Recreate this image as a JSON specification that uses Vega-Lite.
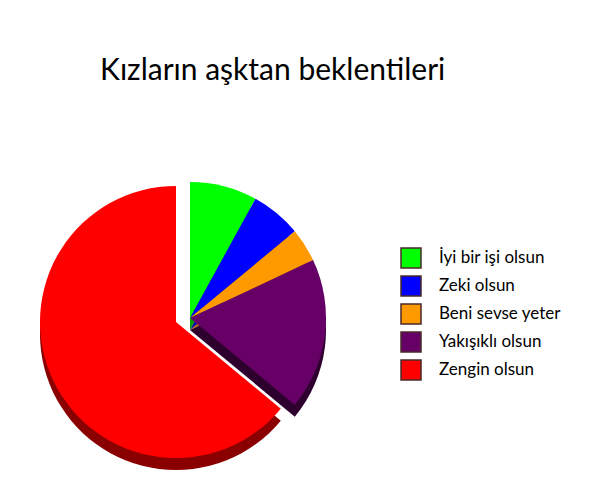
{
  "$schema": "https://vega.github.io/schema/vega-lite/v6.json",
  "autosize": "none",
  "width": 380,
  "height": 266,
  "padding": {"left": 0, "top": 185, "right": 220, "bottom": 38},
  "background": "white",
  "title": {
    "text": "Kızların aşktan beklentileri",
    "anchor": "start",
    "frame": "group",
    "dx": 100,
    "offset": 96,
    "font": "Lato",
    "fontSize": 30,
    "fontWeight": "normal",
    "color": "black"
  },
  "config": {"view": {"stroke": null}},
  "data": {
    "values": [
      {"name": "İyi bir işi olsun", "value": 8, "sira": 1},
      {"name": "Zeki olsun", "value": 6, "sira": 2},
      {"name": "Beni sevse yeter", "value": 4, "sira": 3},
      {"name": "Yakışıklı olsun", "value": 18, "sira": 4},
      {"name": "Zengin olsun", "value": 64, "sira": 5}
    ]
  },
  "layer": [
    {
      "mark": {"type": "arc", "radius": 136, "yOffset": 12},
      "encoding": {
        "theta": {"field": "value", "type": "quantitative", "stack": true},
        "order": {"field": "sira", "type": "quantitative"},
        "color": {
          "field": "name", "type": "nominal", "legend": null,
          "scale": {
            "domain": ["İyi bir işi olsun", "Zeki olsun", "Beni sevse yeter", "Yakışıklı olsun", "Zengin olsun"],
            "range": ["#00a000", "#0000a0", "#b06000", "#2e002e", "#8a0000"]
          }
        },
        "opacity": {"condition": {"test": "datum.name === 'Zengin olsun'", "value": 0}, "value": 1}
      }
    },
    {
      "mark": {"type": "arc", "radius": 136, "xOffset": -14, "yOffset": 16},
      "encoding": {
        "theta": {"field": "value", "type": "quantitative", "stack": true},
        "order": {"field": "sira", "type": "quantitative"},
        "color": {
          "field": "name", "type": "nominal", "legend": null,
          "scale": {
            "domain": ["İyi bir işi olsun", "Zeki olsun", "Beni sevse yeter", "Yakışıklı olsun", "Zengin olsun"],
            "range": ["#00a000", "#0000a0", "#b06000", "#2e002e", "#8a0000"]
          }
        },
        "opacity": {"condition": {"test": "datum.name === 'Zengin olsun'", "value": 1}, "value": 0}
      }
    },
    {
      "mark": {"type": "arc", "radius": 136, "xOffset": -14, "yOffset": 4},
      "encoding": {
        "theta": {"field": "value", "type": "quantitative", "stack": true},
        "order": {"field": "sira", "type": "quantitative"},
        "color": {
          "field": "name", "type": "nominal",
          "scale": {
            "domain": ["İyi bir işi olsun", "Zeki olsun", "Beni sevse yeter", "Yakışıklı olsun", "Zengin olsun"],
            "range": ["#00ff00", "#0000ff", "#ff9900", "#660066", "#ff0000"]
          },
          "legend": null
        },
        "opacity": {"condition": {"test": "datum.name === 'Zengin olsun'", "value": 1}, "value": 0}
      }
    },
    {
      "mark": {"type": "arc", "radius": 136},
      "encoding": {
        "theta": {"field": "value", "type": "quantitative", "stack": true},
        "order": {"field": "sira", "type": "quantitative"},
        "color": {
          "field": "name", "type": "nominal",
          "scale": {
            "domain": ["İyi bir işi olsun", "Zeki olsun", "Beni sevse yeter", "Yakışıklı olsun", "Zengin olsun"],
            "range": ["#00ff00", "#0000ff", "#ff9900", "#660066", "#ff0000"]
          },
          "legend": {
            "title": null,
            "orient": "none",
            "legendX": 400,
            "legendY": 62,
            "symbolType": "square",
            "symbolSize": 400,
            "symbolStrokeColor": "#4a2a2a",
            "symbolStrokeWidth": 1.5,
            "symbolOpacity": 1,
            "rowPadding": 2,
            "labelOffset": 17,
            "labelFont": "Lato",
            "labelFontSize": 17,
            "labelColor": "black",
            "labelLimit": 300
          }
        },
        "opacity": {"condition": {"test": "datum.name === 'Zengin olsun'", "value": 0}, "value": 1}
      }
    }
  ],
  "resolve": {"scale": {"color": "independent"}}
}
